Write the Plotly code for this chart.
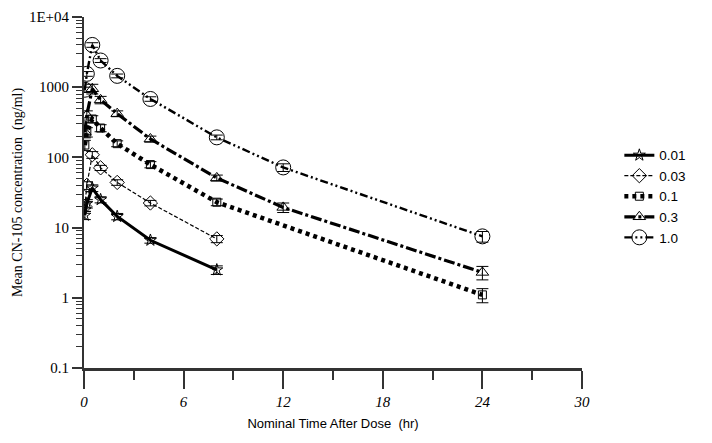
import plotly.graph_objects as go

# ---- data ----
dose_labels = ["0.01", "0.03", "0.1", "0.3", "1.0"]

time_001 = [0.05, 0.17, 0.5, 1, 2, 4, 8]
conc_001 = [15, 22, 36.6, 25, 14.4, 6.6, 2.5]
err_001 = [2, 3, 4, 2.5, 1.5, 0.6, 0.35]

time_003 = [0.05, 0.17, 0.5, 1, 2, 4, 8]
conc_003 = [20, 40, 109, 71, 44, 22.4, 6.9]
err_003 = [3, 5, 12, 6, 4, 2, 0.8]

time_01 = [0.05, 0.17, 0.5, 1, 2, 4, 8, 24]
conc_01 = [150, 230, 352, 262, 157, 79, 23, 1.1]
err_01 = [25, 35, 40, 30, 15, 8, 2.5, 0.25]

time_03 = [0.05, 0.17, 0.5, 1, 2, 4, 8, 12, 24]
conc_03 = [230, 400, 950, 660, 420, 183, 51, 19.4, 2.3]
err_03 = [40, 60, 150, 80, 40, 18, 5, 3, 0.5]

time_10 = [0.05, 0.17, 0.5, 1, 2, 4, 8, 12, 24]
conc_10 = [920, 1550, 4000, 2400, 1450, 680, 193, 72, 7.5]
err_10 = [80, 120, 300, 150, 90, 50, 15, 9, 1.3]

y_tickvals = [0.1, 1, 10, 100, 1000, 10000]
y_ticktext = ["0.1", "1", "10", "100", "1000", "1E+04"]
x_tickvals = [0, 6, 12, 18, 24, 30]

# minor log ticks 2..9 within each decade
y_minor = [m * d for d in y_tickvals[:-1] for m in range(2, 10)]

series = [
    (time_001, conc_001, err_001, "star-open", 9, dict(width=3, dash="solid")),
    (time_003, conc_003, err_003, "diamond-open", 11, dict(width=1.2, dash="4px,2px")),
    (time_01, conc_01, err_01, "square-open", 8, dict(width=4.5, dash="4px,4px")),
    (time_03, conc_03, err_03, "triangle-up-open", 11, dict(width=3.2, dash="11px,3px,3px,3px")),
    (time_10, conc_10, err_10, "circle-open", 15, dict(width=2.4, dash="8px,3px,2px,3px,2px,3px")),
]

fig = go.Figure()
for (t, c, e, sym, size, line), name in zip(series, dose_labels):
    fig.add_trace(go.Scatter(
        x=t, y=c, name=name, mode="lines+markers",
        line=dict(color="black", **line),
        marker=dict(symbol=sym, size=size, color="black", line=dict(width=1, color="black")),
        error_y=dict(type="data", array=e, visible=True, color="black", thickness=1, width=6),
    ))

serif = "Liberation Serif, Times New Roman, serif"
sans = "Liberation Sans, Arial, sans-serif"

fig.update_layout(
    width=704, height=435,
    margin=dict(l=76, r=130, t=9, b=75, autoexpand=False),
    paper_bgcolor="white", plot_bgcolor="white",
    showlegend=True,
    legend=dict(x=1.075, y=0.65, xanchor="left", yanchor="top",
                font=dict(family=sans, size=13.5, color="black"),
                tracegroupgap=0, itemwidth=30, bgcolor="rgba(0,0,0,0)"),
    xaxis=dict(
        range=[0, 30], tickvals=x_tickvals, ticks="outside", ticklen=18, tickwidth=1.5,
        tickcolor="#333", showline=True, linecolor="#333", linewidth=2.5,
        showgrid=False, zeroline=False, automargin=False,
        tickfont=dict(family=serif, size=15, color="black", style="italic"),
        minor=dict(dtick=3, ticks="outside", ticklen=9, tickwidth=1.5, tickcolor="#333", showgrid=False),
        title=dict(text="Nominal Time After Dose  (hr)", font=dict(family=sans, size=13, color="black"), standoff=11),
    ),
    yaxis=dict(
        type="log", range=[-1, 4], tickvals=y_tickvals, ticktext=y_ticktext,
        ticks="outside", ticklen=10, tickwidth=1.5, tickcolor="#333",
        showline=True, linecolor="#333", linewidth=2,
        showgrid=False, zeroline=False, automargin=False,
        tickfont=dict(family=serif, size=15, color="black"),
        minor=dict(tickvals=y_minor, ticks="outside", ticklen=6, tickwidth=1, tickcolor="#333", showgrid=False),
        title=dict(text="Mean CN-105 concentration  (ng/ml)", font=dict(family=serif, size=14, color="black"), standoff=3),
    ),
)

fig.write_html("out.html")
